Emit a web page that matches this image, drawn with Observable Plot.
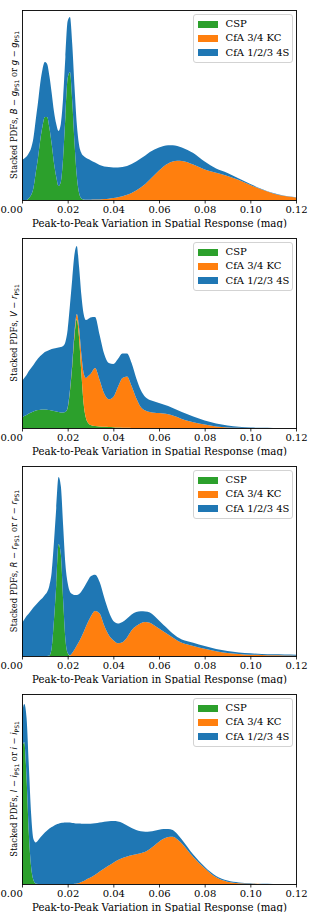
<!DOCTYPE html>
<html>
<head>
<meta charset="utf-8">
<script src="https://cdn.jsdelivr.net/npm/d3@7"></script>
<script src="https://cdn.jsdelivr.net/npm/@observablehq/plot@0.6"></script>
<style>
  html, body { margin: 0; padding: 0; background: #fff; }
  #root { width: 315px; }
  .panel { position: relative; width: 315px; height: 228px; }
  .panel svg { display: block; }
  .legend { position: absolute; left: 192.5px; top: 13.5px; width: 100px; height: 49px;
    box-sizing: border-box; border: 1px solid #d3d3d3; border-radius: 3px;
    background: rgba(255,255,255,0.8); font-family: "DejaVu Serif"; font-size: 10px; color: #000; }
  .legend .sw { position: absolute; left: 4px; width: 20.5px; height: 7px; }
  .legend .lb { position: absolute; left: 32px; line-height: 12px; white-space: nowrap; }
</style>
</head>
<body>
<div id="root"></div>
<script>
// ---- shared x grid (peak-to-peak variation, mag) ----
const peakToPeak = [
  0,0.001,0.002,0.003,0.004,0.005,0.006,0.007,0.008,0.009,0.010,0.011,0.012,0.013,0.014,0.015,
  0.016,0.017,0.018,0.019,0.020,0.021,0.022,0.023,0.024,0.025,0.026,0.027,0.028,0.029,0.030,
  0.032,0.034,0.036,0.038,0.040,0.042,0.044,0.046,0.048,0.050,0.052,0.054,0.056,0.058,0.060,
  0.062,0.064,0.066,0.068,0.070,
  0.075,0.080,0.085,0.090,0.095,0.100,0.105,0.110,0.115,0.120
];
const seriesNames = ["CSP", "CfA 3/4 KC", "CfA 1/2/3 4S"];
const seriesColors = ["#2ca02c", "#ff7f0e", "#1f77b4"];
const tickValues = [0, 0.02, 0.04, 0.06, 0.08, 0.10, 0.12];
const tickLabels = ["0.00", "0.02", "0.04", "0.06", "0.08", "0.10", "0.12"];
const xLabel = "Peak-to-Peak Variation in Spatial Response (mag)";

// ---- Panel 1: B - g_PS1 or g - g_PS1 ----
const cspB = [0,0,0,2,5,12,27,42,60,74,83,83,72,56,37,23,14,18,42,83,122,128,99,57,24,7,1.5,0.3,0,0,0,
  0,0,0,0,0,0,0,0,0,0,0,0,0,0,0,0,0,0,0,0,
  0,0,0,0,0,0,0,0,0,0];
const kcB = [0,0,0,0,0,0,0,0,0,0,0,0,0,0,0,0,0,0,0,0,0,0,0,0,0,0,0,0.1,0.15,0.2,0.3,
  0.4,0.6,0.9,1.3,1.9,2.7,3.8,5.3,7,9.5,12.5,16,20.5,25,29.5,33.5,36.5,38.5,39.2,39,
  35.5,30.5,27.3,24,20,15,10.5,6.5,4,2.5];
const s4B = [40,41.5,43.5,45,47,50,53,55.5,57,57,55,53,52,51,51.5,53,55,58,60,60,57,55,57,56,52,48,45.5,43.5,42,40.7,39.5,
  37.1,34.4,32.6,31.7,30.6,29.8,29.2,28.7,29,29,29,28.5,27.5,25.5,23,20.5,18.2,16.2,14.8,13.5,
  11.5,8,4.2,3,1.5,1,0.5,0.5,0.3,0.3];

// ---- Panel 2: V - r_PS1 ----
const cspV = [10,12,13,14.5,15.5,16.5,17.5,18,18.3,18.5,18.5,18.3,18,17.5,17,16.5,16,15.5,15.5,16,20,37,62,92,109,90,55,24,10,5,3,
  2,1.5,1.2,1,0.8,0.5,0.3,0.2,0.1,0,0,0,0,0,0,0,0,0,0,0,
  0,0,0,0,0,0,0,0,0,0];
const kcV = [0,0,0,0,0,0,0,0,0,0,0,0,0,0,0,0,0,0,0,0,0.5,1,2,4,5,10,19,31,40,47,51,
  58,46.5,33.3,27.7,30.2,40.5,49.7,51.3,41.9,30,21,17.5,16,15.3,15,14.5,13.7,12.5,11,9,
  5.8,3.5,1.5,0.5,0.2,0,0,0,0,0];
const s4V = [37,38,40,42.5,44.5,46.5,49,51.5,53.7,55.5,57.5,58.7,60,61.5,62.5,63.5,64.5,65.5,66.5,70,78,85,85,78,68,61,59,59,58,57,56.5,
  51,45,39.5,36.3,33,28,24.5,23,23,20,17,13.5,12,11.2,10,9,8.3,7.5,7,7,
  5.7,4,3,2,1,0.5,0.2,0.1,0,0];

// ---- Panel 3: R - r_PS1 or r - r_PS1 ----
const cspR = [0,0,0,0,0,0,0,0,0,0,0,0,0.5,8,36,71,112,102,57,17,3,0.3,0,0,0,0,0,0,0,0,0,
  0,0,0,0,0,0,0,0,0,0,0,0,0,0,0,0,0,0,0,0,
  0,0,0,0,0,0,0,0,0,0];
const kcR = [0,0,0,0,0,0,0,0,0,0,0,0,0,0,0,0,0,0,0,0,0,0.5,3,6.5,10.5,14.5,19,24,29.5,34.5,39,
  45,42.5,30.5,21,15.7,12.7,13.8,18.5,25.7,30,32.8,34,33.3,30.5,27.5,24.5,21.5,18.5,15.5,13.2,
  10,7.3,4.7,3,2,1.3,1,0.7,0.5,0.3];
const s4R = [33,36.5,40,42.5,45.5,48.5,51,53.5,56,58,61,64,70,76,78,77,67,68,74,75,70,63.5,59,54.5,50.5,47.5,45.5,44,42.5,41.5,40.5,
  36.3,31.5,28,23.5,19.3,19.8,20.2,19,15.8,14,11.9,10.6,10.2,9.5,8,6.5,5.3,4,3.5,3.3,
  3.3,2.7,2.3,2,1.6,1.4,1.1,1,1,1];

// ---- Panel 4: I - i_PS1 or i - i_PS1 ----
const cspI = [136,142,106,50,17,4,0.5,0,0,0,0,0,0,0,0,0,0,0,0,0,0,0,0,0,0,0,0,0,0,0,0,
  0,0,0,0,0,0,0,0,0,0,0,0,0,0,0,0,0,0,0,0,
  0,0,0,0,0,0,0,0,0,0];
const kcI = [0,0,0,0,0,0,0,0,0,0,0,0,0,0,0,0,0,0,0,0,0,0,0,0.2,0.5,1,2,3,4.3,5.4,6.5,
  9.2,12.5,15.5,18.5,21.3,24,26,27.5,28.7,29.8,30.8,32.3,35,38.5,42.3,45.3,47,47.3,44.8,40.5,
  27,15.7,6.7,2.3,0.8,0.3,0.1,0,0,0];
const s4I = [34,38,60,68,53,41,41,43.5,46.5,49,51.5,53.5,55.5,57,58.3,59.5,60.3,61,61.3,61.5,61.5,61.5,61,60.6,60,59.4,58.3,57.3,56,54.9,53.8,
  51.5,49,46.8,44.3,41.7,38.5,35,31,27.3,24.2,22,20,17.5,14.8,12,9.7,8,6.7,5.2,4,
  2.5,1.6,1.3,1.1,0.7,0.4,0.2,0.1,0,0];

// ---- y-axis labels (text pieces: plain, italic math, subscript) ----
const yLabelB = [["Stacked PDFs, ",""],["B","i"],[" − ",""],["g","i"],["PS1","s"],[" or ",""],["g","i"],[" − ",""],["g","i"],["PS1","s"]];
const yLabelV = [["Stacked PDFs, ",""],["V","i"],[" − ",""],["r","i"],["PS1","s"]];
const yLabelR = [["Stacked PDFs, ",""],["R","i"],[" − ",""],["r","i"],["PS1","s"],[" or ",""],["r","i"],[" − ",""],["r","i"],["PS1","s"]];
const yLabelI = [["Stacked PDFs, ",""],["I","i"],[" − ",""],["i","i"],["PS1","s"],[" or ",""],["i","i"],[" − ",""],["i","i"],["PS1","s"]];

const panels = [
  {series: [cspB, kcB, s4B], ylabel: yLabelB},
  {series: [cspV, kcV, s4V], ylabel: yLabelV},
  {series: [cspR, kcR, s4R], ylabel: yLabelR},
  {series: [cspI, kcI, s4I], ylabel: yLabelI}
];

const W = 315, H = 228, mT = 10, mB = 28, mL = 22, mR = 19;
const root = document.getElementById("root");

for (const p of panels) {
  const rows = [];
  p.series.forEach((vals, si) => {
    peakToPeak.forEach((x, j) => rows.push({x, v: vals[j], s: seriesNames[si]}));
  });

  const svg = Plot.plot({
    width: W, height: H,
    marginTop: mT, marginBottom: mB, marginLeft: mL, marginRight: mR,
    style: {fontFamily: "DejaVu Serif", fontSize: "10px", color: "#000", background: "#fff"},
    x: {domain: [0, 0.12]},
    y: {domain: [0, 190], axis: null},
    color: {domain: seriesNames, range: seriesColors},
    marks: [
      Plot.areaY(rows, {x: "x", y: "v", fill: "s", order: seriesNames, curve: "monotone-x"}),
      Plot.frame({stroke: "#000", strokeWidth: 0.9}),
      Plot.axisX({ticks: tickValues, tickSize: 3.5, strokeWidth: 0.8, tickPadding: 2,
        tickFormat: (d) => { const i = tickValues.indexOf(d); return i > 0 ? tickLabels[i] : ""; },
        label: null, fontSize: 10}),
      Plot.text([tickValues[0]], {x: (d) => d, text: () => tickLabels[0], frameAnchor: "bottom",
        lineAnchor: "top", dy: 5.5, textAnchor: "start", dx: -22, fontSize: 10}),
      Plot.text([xLabel], {text: (d) => d, frameAnchor: "bottom", dy: 23, lineAnchor: "middle", fontSize: 10.2})
    ]
  });

  // rotated y label with math pieces
  const t = d3.select(svg).append("text")
    .attr("transform", `translate(17,${mT + (H - mT - mB) / 2}) rotate(-90)`)
    .attr("text-anchor", "middle")
    .attr("fill", "#000")
    .style("font-family", "DejaVu Serif").style("font-size", "8.4px");
  let shifted = false;
  for (const [txt, kind] of p.ylabel) {
    const ts = t.append("tspan").text(txt);
    if (kind === "i") { ts.style("font-family", "DejaVu Sans").style("font-style", "oblique"); }
    if (kind === "s") {
      ts.style("font-family", "DejaVu Sans").style("font-size", "6px").attr("dy", 2.1);
      shifted = true;
    } else if (shifted) { ts.attr("dy", -2.1); shifted = false; }
  }

  const div = document.createElement("div");
  div.className = "panel";
  div.appendChild(svg);

  const leg = document.createElement("div");
  leg.className = "legend";
  const rowsTop = [6, 20, 34.5];
  seriesNames.forEach((name, i) => {
    const sw = document.createElement("div");
    sw.className = "sw";
    sw.style.top = (rowsTop[i]) + "px";
    sw.style.background = seriesColors[i];
    leg.appendChild(sw);
    const lb = document.createElement("div");
    lb.className = "lb";
    lb.style.top = (rowsTop[i] - 2.5) + "px";
    lb.textContent = name;
    leg.appendChild(lb);
  });
  div.appendChild(leg);
  root.appendChild(div);
}
</script>
</body>
</html>
